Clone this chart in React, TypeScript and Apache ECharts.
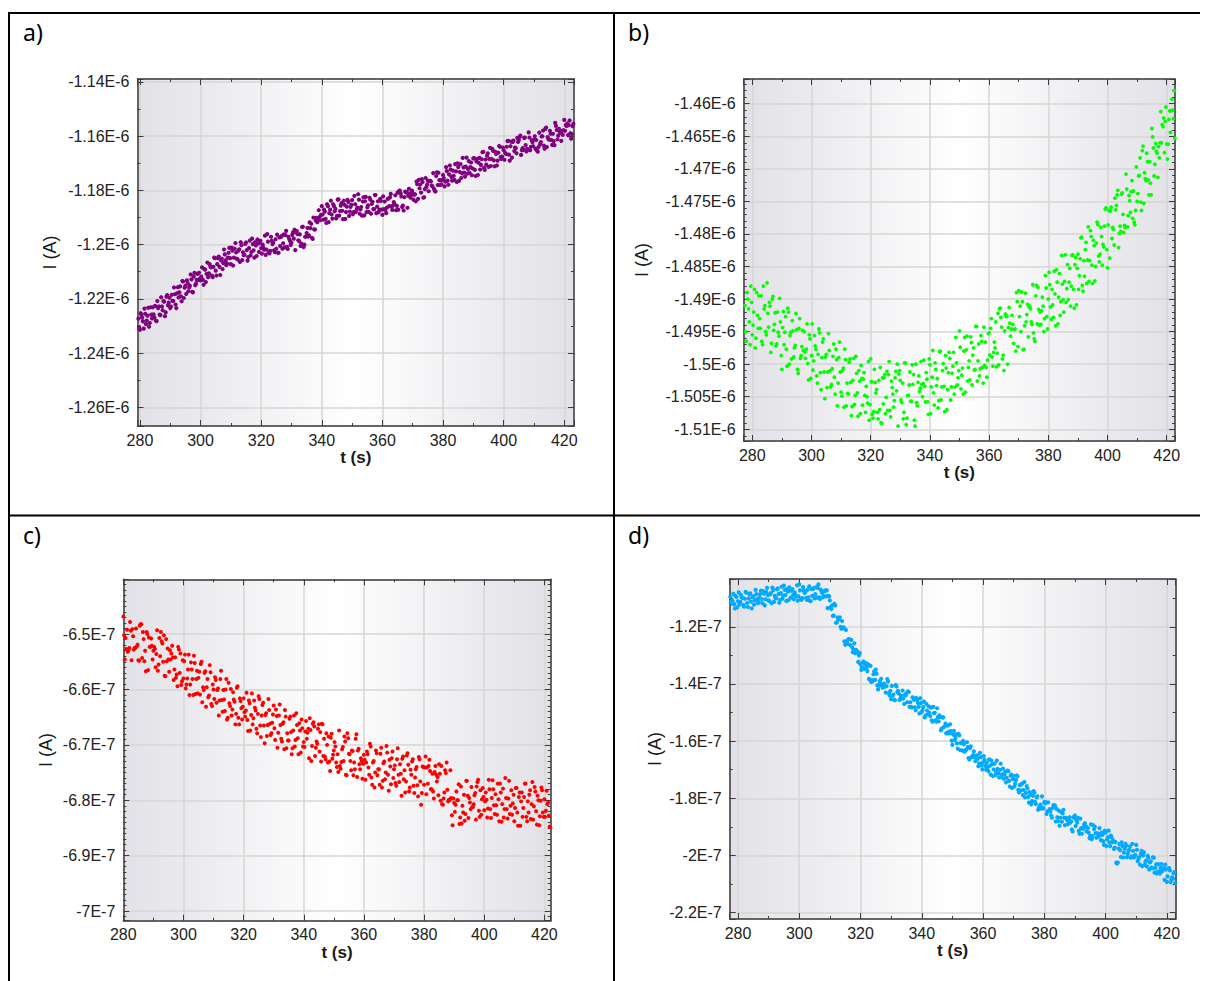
import React, { useEffect, useRef } from 'react';
import * as echarts from 'echarts';

// ---------------- data (current in nA, time in s) ----------------
// Each panel is sampled every DT seconds; a second, interleaved set of samples
// starts a quarter second later.
const DT = 0.5;

const T0_A = 279.5;
const currentA = [
  -1227.3, -1231.4, -1225.9, -1228.3, -1223.6, -1229.3, -1226.2, -1230.3, -1223.1, -1227.2,
  -1225.7, -1222.6, -1228.2, -1223.4, -1225.8, -1219.4, -1224.2, -1221.0, -1225.0, -1218.6,
  -1221.4, -1223.4, -1218.5, -1220.8, -1218.3, -1223.4, -1215.7, -1217.6, -1219.1, -1213.4,
  -1219.7, -1215.2, -1213.2, -1217.2, -1215.2, -1212.8, -1217.6, -1210.4, -1214.4, -1210.8,
  -1210.4, -1213.2, -1208.4, -1214.8, -1209.2, -1210.8, -1212.0, -1207.2, -1208.4, -1212.0,
  -1204.8, -1209.6, -1207.2, -1204.4, -1211.2, -1205.2, -1206.8, -1203.6, -1207.6, -1204.8,
  -1201.2, -1207.2, -1202.2, -1204.8, -1199.4, -1205.2, -1202.2, -1206.4, -1200.2, -1202.8,
  -1203.8, -1199.2, -1205.9, -1201.3, -1204.0, -1197.8, -1202.1, -1199.1, -1204.2, -1199.6,
  -1199.4, -1201.3, -1200.0, -1201.9, -1203.8, -1196.1, -1202.8, -1202.3, -1198.6, -1199.3,
  -1202.8, -1201.5, -1203.0, -1197.3, -1197.2, -1201.5, -1196.2, -1196.5, -1200.8, -1197.1,
  -1198.6, -1199.3, -1195.5, -1194.5, -1195.5, -1196.1, -1198.7, -1200.5, -1193.5, -1200.9,
  -1197.1, -1195.7, -1197.0, -1191.8, -1192.3, -1197.9, -1194.4, -1191.2, -1191.7, -1187.3,
  -1191.0, -1185.8, -1190.8, -1187.8, -1192.0, -1185.8, -1188.4, -1183.8, -1190.4, -1185.8,
  -1186.8, -1189.4, -1183.3, -1187.6, -1184.7, -1190.6, -1185.3, -1188.0, -1183.5, -1189.4,
  -1186.1, -1183.6, -1188.0, -1185.1, -1187.1, -1181.4, -1188.6, -1186.1, -1184.1, -1189.2,
  -1182.4, -1186.3, -1187.9, -1183.4, -1185.0, -1186.9, -1181.7, -1188.4, -1184.0, -1187.1,
  -1183.9, -1189.0, -1186.9, -1187.2, -1186.3, -1183.0, -1182.5, -1186.0, -1185.5, -1185.0,
  -1187.3, -1180.8, -1180.2, -1181.1, -1186.1, -1187.4, -1180.4, -1180.5, -1181.9, -1181.2,
  -1181.8, -1181.1, -1181.6, -1184.0, -1177.7, -1176.1, -1177.8, -1175.8, -1182.7, -1179.5,
  -1178.8, -1176.4, -1176.6, -1176.7, -1178.5, -1179.4, -1180.4, -1173.3, -1173.5, -1178.0,
  -1177.8, -1174.3, -1178.5, -1171.4, -1176.4, -1174.1, -1172.3, -1176.4, -1174.6, -1170.3,
  -1176.9, -1171.4, -1173.2, -1175.4, -1168.0, -1173.4, -1171.2, -1173.8, -1169.2, -1171.4,
  -1174.4, -1168.2, -1172.4, -1169.3, -1174.3, -1168.0, -1170.6, -1165.9, -1171.7, -1168.6,
  -1167.2, -1171.3, -1164.3, -1168.4, -1165.4, -1171.1, -1166.5, -1169.0, -1163.6, -1167.7,
  -1167.5, -1165.2, -1166.2, -1163.9, -1161.7, -1169.0, -1162.0, -1162.1, -1165.5, -1164.4,
  -1160.6, -1161.5, -1159.8, -1165.2, -1165.1, -1160.5, -1165.6, -1165.0, -1160.5, -1163.9,
  -1162.2, -1161.2, -1164.7, -1165.3, -1164.0, -1163.0, -1160.1, -1157.9, -1164.6, -1156.8,
  -1160.3, -1161.3, -1159.1, -1163.2, -1161.8, -1155.1, -1157.7, -1159.8, -1158.4, -1161.7,
  -1159.5, -1154.0, -1155.9, -1155.3, -1155.9, -1158.9, -1159.2, -1155.4,
];
const T0_A2 = 279.75;
const currentA2 = [
  -1230.4, -1225.3, -1226.9, -1231.0, -1225.5, -1228.0, -1223.3, -1228.9, -1225.8, -1223.1,
  -1226.8, -1228.0, -1220.8, -1222.8, -1226.0, -1222.8, -1220.8, -1226.4, -1219.2, -1222.4,
  -1219.6, -1222.8, -1220.7, -1215.8, -1222.1, -1218.0, -1219.5, -1215.4, -1220.9, -1213.6,
  -1215.9, -1218.2, -1214.2, -1215.8, -1211.0, -1217.4, -1211.8, -1215.0, -1213.0, -1213.0,
  -1212.6, -1211.8, -1213.0, -1209.0, -1213.8, -1206.6, -1210.6, -1208.2, -1211.4, -1208.2,
  -1205.0, -1211.4, -1205.0, -1208.2, -1205.8, -1209.0, -1201.8, -1205.8, -1207.0, -1203.0,
  -1205.0, -1201.1, -1207.7, -1201.5, -1202.9, -1205.5, -1201.7, -1199.1, -1205.7, -1203.9,
  -1199.7, -1202.0, -1204.6, -1198.5, -1202.7, -1199.8, -1204.8, -1200.3, -1198.1, -1202.7,
  -1198.6, -1203.3, -1201.2, -1196.7, -1201.8, -1198.9, -1203.2, -1197.1, -1199.8, -1202.1,
  -1198.0, -1196.3, -1203.0, -1200.5, -1196.8, -1199.5, -1201.0, -1194.9, -1201.6, -1197.9,
  -1200.1, -1196.4, -1197.8, -1202.0, -1195.0, -1198.4, -1196.2, -1199.6, -1193.4, -1200.0,
  -1197.0, -1193.8, -1196.6, -1193.9, -1197.5, -1190.0, -1194.4, -1190.1, -1190.9, -1189.8,
  -1189.0, -1188.9, -1187.1, -1190.5, -1185.1, -1191.7, -1187.1, -1188.9, -1185.1, -1187.7,
  -1190.3, -1183.4, -1189.3, -1185.6, -1187.5, -1183.8, -1190.5, -1186.0, -1184.3, -1187.8,
  -1185.3, -1188.8, -1182.0, -1187.9, -1186.3, -1183.4, -1187.0, -1189.3, -1182.5, -1184.0,
  -1188.0, -1185.5, -1182.7, -1188.6, -1184.2, -1186.9, -1181.7, -1186.0, -1188.0, -1183.1,
  -1187.1, -1182.2, -1184.1, -1188.4, -1183.1, -1185.8, -1181.3, -1187.2, -1184.3, -1181.8,
  -1185.7, -1187.1, -1180.1, -1182.2, -1185.6, -1182.5, -1180.7, -1186.4, -1179.4, -1182.7,
  -1180.1, -1183.4, -1181.4, -1176.7, -1183.1, -1179.2, -1180.8, -1176.9, -1182.5, -1175.4,
  -1177.8, -1180.3, -1176.5, -1178.2, -1173.6, -1180.1, -1174.7, -1178.0, -1176.2, -1176.3,
  -1176.1, -1175.4, -1176.8, -1172.9, -1177.9, -1170.8, -1175.0, -1172.7, -1176.1, -1173.0,
  -1170.0, -1176.5, -1170.3, -1173.7, -1171.5, -1174.9, -1167.9, -1172.1, -1173.5, -1169.7,
  -1171.9, -1168.1, -1174.7, -1168.4, -1169.8, -1172.3, -1168.5, -1165.8, -1172.4, -1170.5,
  -1166.3, -1168.4, -1171.0, -1164.7, -1168.9, -1165.8, -1170.8, -1166.1, -1163.9, -1168.4,
  -1164.2, -1168.7, -1166.5, -1161.8, -1166.8, -1163.7, -1167.9, -1161.6, -1164.2, -1166.3,
  -1162.1, -1160.3, -1166.9, -1164.4, -1160.6, -1163.3, -1164.7, -1158.6, -1165.2, -1161.5,
  -1163.7, -1160.0, -1161.4, -1165.7, -1158.7, -1162.2, -1160.0, -1163.5, -1157.3, -1164.0,
  -1161.0, -1158.0, -1161.4, -1159.1, -1163.3, -1156.2, -1161.2, -1157.3, -1158.7, -1158.0,
  -1157.8, -1158.0, -1156.2, -1159.6, -1154.2, -1160.9, -1156.3, -1158.1,
];

const T0_B = 277.5;
const currentB = [
  -1491.0, -1496.5, -1490.0, -1493.5, -1488.0, -1495.5, -1492.0, -1497.5, -1489.0, -1494.5,
  -1493.0, -1489.5, -1497.0, -1491.5, -1495.0, -1487.5, -1494.3, -1491.1, -1496.8, -1489.6,
  -1493.9, -1497.2, -1492.0, -1495.7, -1493.5, -1500.8, -1491.9, -1495.1, -1497.7, -1491.4,
  -1500.0, -1495.1, -1493.3, -1498.9, -1497.1, -1494.7, -1501.4, -1493.0, -1498.7, -1494.8,
  -1495.0, -1499.1, -1493.8, -1502.4, -1496.1, -1498.7, -1500.9, -1495.6, -1497.7, -1502.9,
  -1494.6, -1501.3, -1499.0, -1496.1, -1505.3, -1498.5, -1501.2, -1497.9, -1503.5, -1500.7,
  -1496.9, -1504.6, -1499.3, -1502.9, -1496.6, -1504.3, -1501.0, -1506.6, -1499.3, -1502.9,
  -1504.6, -1499.2, -1507.9, -1502.5, -1506.2, -1498.8, -1504.4, -1501.0, -1507.6, -1502.2,
  -1502.3, -1504.8, -1503.4, -1506.0, -1508.6, -1499.2, -1507.7, -1507.3, -1502.8, -1503.9,
  -1508.4, -1507.0, -1509.0, -1502.1, -1502.1, -1507.6, -1501.1, -1501.6, -1507.1, -1502.6,
  -1504.6, -1505.6, -1501.1, -1500.0, -1501.5, -1502.5, -1505.9, -1508.4, -1499.8, -1509.3,
  -1504.8, -1503.2, -1505.7, -1500.1, -1501.6, -1509.5, -1505.9, -1502.8, -1504.2, -1499.6,
  -1505.0, -1499.4, -1505.8, -1502.3, -1507.7, -1500.1, -1503.5, -1497.9, -1506.3, -1500.8,
  -1502.2, -1505.6, -1498.0, -1503.5, -1499.9, -1507.3, -1500.6, -1503.9, -1498.2, -1505.5,
  -1501.4, -1498.2, -1503.5, -1499.8, -1502.1, -1494.9, -1503.8, -1500.6, -1498.0, -1504.3,
  -1495.7, -1500.5, -1502.4, -1496.7, -1498.6, -1500.9, -1494.2, -1502.6, -1496.9, -1500.7,
  -1496.5, -1502.9, -1500.2, -1500.5, -1499.4, -1495.2, -1494.5, -1498.9, -1498.2, -1497.5,
  -1500.4, -1492.2, -1491.5, -1492.8, -1499.2, -1501.0, -1492.3, -1492.6, -1494.4, -1493.7,
  -1494.6, -1493.9, -1494.7, -1498.0, -1490.4, -1488.7, -1491.1, -1488.9, -1497.8, -1494.1,
  -1493.5, -1490.8, -1491.2, -1491.5, -1493.9, -1495.2, -1496.5, -1487.9, -1488.2, -1494.0,
  -1493.9, -1489.7, -1495.0, -1486.4, -1492.7, -1490.0, -1487.8, -1493.1, -1490.9, -1485.7,
  -1494.1, -1487.4, -1489.7, -1492.5, -1483.3, -1490.1, -1487.3, -1490.5, -1484.7, -1487.4,
  -1491.1, -1483.3, -1488.5, -1484.7, -1490.9, -1483.1, -1486.4, -1480.6, -1487.9, -1484.1,
  -1482.4, -1487.6, -1478.9, -1484.1, -1480.4, -1487.6, -1481.8, -1485.0, -1478.2, -1483.4,
  -1483.1, -1480.4, -1481.6, -1478.8, -1476.0, -1485.2, -1476.4, -1476.5, -1480.7, -1479.3,
  -1474.5, -1475.6, -1473.3, -1479.9, -1479.6, -1473.7, -1479.8, -1479.0, -1473.1, -1477.2,
  -1474.9, -1473.5, -1477.6, -1478.2, -1476.4, -1475.0, -1471.1, -1468.3, -1476.4, -1466.5,
  -1470.6, -1471.8, -1468.9, -1474.0, -1472.2, -1463.8, -1466.8, -1469.3, -1467.3, -1471.3,
  -1468.3, -1461.2, -1463.2, -1462.2, -1462.7, -1466.2, -1466.2, -1461.1, -1461.1, -1461.0,
  -1458.0,
];
const T0_B2 = 277.75;
const currentB2 = [
  -1495.0, -1489.0, -1491.5, -1497.0, -1490.5, -1494.0, -1488.5, -1496.0, -1492.5, -1489.5,
  -1494.5, -1496.5, -1488.0, -1491.0, -1495.5, -1492.2, -1490.5, -1498.2, -1490.0, -1494.8,
  -1492.1, -1496.9, -1495.1, -1489.9, -1498.7, -1494.4, -1497.0, -1492.7, -1500.3, -1492.0,
  -1495.6, -1499.2, -1494.9, -1497.5, -1492.2, -1500.8, -1494.5, -1499.1, -1497.3, -1497.9,
  -1498.1, -1497.7, -1499.9, -1495.5, -1502.2, -1493.8, -1499.5, -1497.2, -1501.8, -1498.5,
  -1495.2, -1503.9, -1496.6, -1501.2, -1498.9, -1503.6, -1495.3, -1501.0, -1503.1, -1498.8,
  -1502.0, -1497.7, -1506.4, -1499.0, -1501.2, -1504.9, -1500.6, -1497.7, -1506.4, -1504.5,
  -1499.7, -1502.8, -1506.5, -1499.1, -1504.8, -1501.4, -1508.0, -1502.6, -1500.2, -1506.3,
  -1501.3, -1507.4, -1505.0, -1499.6, -1506.2, -1502.7, -1508.3, -1500.8, -1504.4, -1507.4,
  -1502.5, -1500.5, -1509.1, -1506.1, -1501.6, -1505.1, -1507.1, -1499.6, -1508.1, -1503.6,
  -1506.6, -1502.1, -1504.1, -1509.5, -1501.0, -1505.5, -1502.9, -1507.4, -1499.8, -1508.3,
  -1504.8, -1501.2, -1505.7, -1503.1, -1508.6, -1500.0, -1506.4, -1501.8, -1503.7, -1503.1,
  -1503.0, -1503.4, -1501.3, -1505.8, -1499.2, -1507.6, -1502.0, -1504.4, -1499.8, -1503.3,
  -1506.7, -1498.1, -1505.5, -1501.0, -1503.4, -1498.7, -1507.0, -1501.3, -1499.1, -1503.5,
  -1500.3, -1504.6, -1495.9, -1503.2, -1501.0, -1497.4, -1501.7, -1504.6, -1495.9, -1497.8,
  -1502.6, -1499.5, -1495.8, -1503.2, -1497.5, -1500.8, -1494.2, -1499.5, -1501.8, -1495.6,
  -1500.5, -1494.3, -1496.6, -1502.0, -1495.3, -1498.6, -1493.0, -1500.3, -1496.6, -1493.5,
  -1498.3, -1500.1, -1491.4, -1494.3, -1498.6, -1494.9, -1492.7, -1500.0, -1491.3, -1495.7,
  -1492.5, -1496.8, -1494.6, -1489.0, -1497.3, -1492.7, -1495.0, -1490.4, -1497.7, -1489.1,
  -1492.4, -1495.8, -1491.1, -1493.5, -1487.8, -1496.1, -1489.5, -1493.8, -1491.6, -1492.0,
  -1491.8, -1491.1, -1493.0, -1488.3, -1494.6, -1485.9, -1491.2, -1488.5, -1492.8, -1489.2,
  -1485.5, -1493.8, -1486.1, -1490.4, -1487.7, -1492.0, -1483.2, -1488.4, -1490.1, -1485.3,
  -1488.0, -1483.2, -1491.4, -1483.6, -1485.3, -1488.5, -1483.8, -1480.5, -1488.8, -1486.5,
  -1481.3, -1484.0, -1487.3, -1479.5, -1484.8, -1481.0, -1487.2, -1481.4, -1478.6, -1484.3,
  -1479.0, -1484.8, -1482.0, -1476.2, -1482.4, -1478.6, -1483.7, -1475.9, -1479.0, -1481.7,
  -1476.3, -1474.0, -1482.1, -1478.8, -1473.9, -1477.0, -1478.7, -1470.8, -1478.9, -1474.1,
  -1476.7, -1471.8, -1473.4, -1478.6, -1469.7, -1473.8, -1471.0, -1475.1, -1467.2, -1475.3,
  -1471.5, -1467.6, -1471.7, -1468.9, -1474.0, -1465.1, -1471.1, -1466.1, -1467.6, -1466.6,
  -1466.0, -1466.0, -1463.5, -1467.5, -1460.5, -1468.5, -1462.4, -1464.4, -1459.3, -1462.3,
  -1465.3,
];

const T0_C = 280;
const currentC = [
  -646.8, -654.6, -652.7, -653.2, -652.5, -649.4, -649.1, -652.8, -652.5, -652.2,
  -654.7, -648.5, -648.2, -649.6, -654.9, -656.7, -650.0, -650.6, -652.3, -652.1,
  -653.0, -652.7, -653.6, -656.6, -650.7, -649.6, -651.7, -650.2, -657.6, -654.9,
  -654.6, -652.9, -653.5, -654.2, -656.4, -657.9, -659.4, -652.8, -653.5, -658.5,
  -658.0, -653.7, -659.1, -656.4, -661.0, -655.1, -658.1, -653.9, -660.8, -656.6,
  -657.9, -660.9, -655.0, -659.6, -657.0, -663.1, -658.1, -661.1, -656.9, -663.0,
  -660.0, -657.8, -662.4, -659.8, -662.0, -656.6, -664.0, -661.8, -660.0, -665.4,
  -658.8, -663.0, -664.7, -660.5, -662.2, -664.4, -659.4, -666.3, -662.1, -665.4,
  -661.6, -664.9, -660.6, -667.5, -662.5, -664.6, -666.3, -662.0, -663.8, -667.9,
  -661.2, -666.5, -664.7, -662.4, -669.7, -664.3, -666.4, -663.7, -668.2, -666.0,
  -662.9, -669.1, -664.8, -667.8, -662.7, -668.9, -666.2, -670.8, -664.9, -667.9,
  -669.2, -664.9, -671.7, -667.4, -670.3, -664.3, -668.8, -666.1, -671.4, -667.0,
  -669.5, -667.6, -668.9, -667.1, -665.2, -672.9, -666.2, -666.7, -670.5, -669.8,
  -666.3, -667.7, -666.2, -672.0, -672.1, -667.9, -673.2, -673.0, -668.7, -672.5,
  -671.0, -670.3, -674.0, -674.9, -673.8, -673.1, -670.4, -668.5, -675.4, -667.9,
  -671.6, -672.9, -671.0, -675.5, -674.4, -668.1, -671.0, -673.5, -672.4, -676.1,
  -671.8, -676.3, -671.2, -674.1, -669.8, -675.9, -673.2, -677.7, -671.0, -675.5,
  -674.4, -671.6, -677.7, -673.3, -676.2, -670.2, -675.4, -672.7, -677.1, -671.2,
  -674.4, -676.9, -672.6, -675.4, -673.5, -679.2, -672.1, -674.6, -676.6, -671.5,
  -678.4, -674.5, -673.0, -677.4, -675.9, -674.0, -679.3, -672.6, -680.8, -673.9,
  -677.2, -672.1, -674.1, -673.8, -674.7, -678.0, -678.4, -674.9, -675.4, -675.8,
  -673.5, -680.1, -680.7, -679.7, -674.6, -673.2, -680.2, -680.0, -679.6, -684.5,
  -680.5, -680.8, -680.0, -677.1, -683.1, -684.2, -682.2, -683.7, -676.5, -679.2,
  -679.6, -681.6, -681.2, -680.7, -678.7, -677.5, -676.3, -683.0, -682.6, -677.8,
  -681.8, -678.6, -683.1, -676.3, -681.6, -679.6, -678.0, -682.5, -680.9, -677.0,
  -683.8, -678.6, -680.7, -683.1, -676.0, -681.6, -679.7, -682.5, -678.2, -680.6,
  -683.8, -677.8, -682.2, -679.4, -684.6, -678.6, -681.4, -677.0, -683.0, -680.2,
  -679.0, -683.4, -676.7, -681.1, -678.4, -684.4, -680.0, -682.9, -677.7, -682.2,
  -679.8, -681.9, -680.7, -682.8, -684.9,
];
const T0_C2 = 280.25;
const currentC2 = [
  -650.2, -650.7, -649.2, -652.9, -647.8, -654.7, -650.4, -652.5, -649.0, -651.9,
  -654.8, -648.2, -654.3, -650.9, -653.0, -649.6, -656.5, -652.3, -650.8, -654.6,
  -652.3, -656.0, -649.3, -655.5, -654.0, -651.3, -655.0, -657.5, -650.9, -652.6,
  -656.8, -654.6, -652.1, -658.3, -654.2, -657.3, -652.3, -657.0, -659.2, -654.7,
  -654.9, -659.8, -658.0, -653.7, -659.1, -656.4, -661.0, -655.2, -658.1, -660.7,
  -656.8, -655.4, -662.3, -660.1, -656.7, -659.6, -661.4, -655.6, -662.6, -659.1,
  -661.7, -658.3, -660.1, -664.7, -658.1, -661.9, -660.1, -663.9, -658.1, -665.1,
  -662.5, -659.9, -663.6, -661.8, -666.3, -659.7, -665.1, -661.6, -663.4, -663.1,
  -664.1, -663.8, -665.5, -662.0, -667.4, -660.7, -665.2, -663.3, -667.1, -664.4,
  -661.7, -668.6, -662.8, -666.5, -664.6, -668.4, -661.7, -666.2, -667.9, -664.5,
  -667.0, -663.6, -670.5, -664.7, -666.4, -669.4, -665.9, -663.7, -670.6, -669.2,
  -665.3, -667.7, -670.6, -664.7, -669.1, -666.4, -671.7, -667.4, -665.4, -670.3,
  -670.4, -665.7, -667.8, -672.4, -667.3, -670.2, -665.9, -672.0, -669.4, -667.1,
  -671.2, -673.0, -666.3, -668.9, -672.6, -670.0, -668.5, -674.7, -668.0, -671.8,
  -669.5, -673.2, -671.7, -667.4, -674.3, -670.8, -672.9, -669.4, -675.5, -668.8,
  -671.7, -674.6, -671.1, -673.2, -668.9, -675.8, -670.7, -674.4, -672.9, -673.4,
  -672.7, -673.2, -671.7, -675.4, -670.3, -677.2, -672.9, -675.0, -671.5, -674.4,
  -677.2, -670.5, -676.5, -673.0, -675.0, -671.4, -678.3, -673.9, -672.4, -676.0,
  -673.7, -677.4, -670.6, -676.7, -675.2, -672.5, -676.2, -678.6, -671.9, -673.6,
  -677.7, -675.4, -672.6, -678.7, -674.4, -677.3, -672.2, -676.6, -678.7, -674.0,
  -674.1, -678.9, -677.0, -672.7, -678.0, -675.2, -679.7, -673.8, -676.6, -679.1,
  -675.2, -673.8, -680.8, -678.6, -675.1, -678.1, -679.9, -674.6, -682.7, -679.7,
  -682.1, -678.4, -680.0, -684.3, -677.5, -681.0, -679.0, -682.5, -676.5, -683.2,
  -680.4, -677.6, -681.2, -679.1, -683.5, -676.7, -681.9, -678.2, -679.8, -679.4,
  -680.2, -679.9, -681.5, -678.0, -683.2, -676.4, -680.9, -678.9, -682.6, -679.8,
  -677.0, -683.9, -677.9, -681.6, -679.6, -683.3, -676.5, -681.0, -682.6, -679.0,
  -681.4, -677.8, -684.6, -678.6, -680.2, -683.0, -679.4, -677.0, -683.8, -682.2,
  -678.2, -680.7, -683.5, -677.6, -682.0, -679.2, -684.5, -680.1, -678.2, -683.0,
  -683.0, -678.3, -680.4, -684.8, -679.7,
];

const T0_D = 277.5;
const currentD = [
  -109.5, -111.9, -108.5, -113.6, -109.6, -111.1, -112.2, -108.9, -110.0, -113.0,
  -107.8, -111.7, -110.1, -108.3, -113.6, -109.4, -110.8, -108.6, -111.8, -109.9,
  -107.4, -111.8, -108.4, -110.4, -106.4, -110.8, -108.6, -111.8, -107.2, -109.2,
  -110.0, -106.6, -111.6, -108.2, -110.2, -105.6, -108.9, -106.8, -110.7, -107.4,
  -107.4, -108.9, -108.0, -109.4, -110.9, -105.2, -110.3, -110.0, -107.3, -107.9,
  -110.6, -109.7, -111.0, -106.8, -106.8, -110.1, -106.2, -106.4, -109.7, -107.0,
  -108.2, -109.4, -107.3, -107.3, -109.2, -110.8, -113.8, -116.2, -112.0, -118.6,
  -116.8, -117.2, -120.0, -118.0, -120.2, -126.3, -125.2, -124.4, -126.3, -124.6,
  -128.9, -125.8, -128.1, -128.6, -130.0, -133.2, -134.2, -132.2, -133.2, -134.2,
  -133.1, -138.5, -139.3, -139.0, -135.6, -135.0, -140.5, -140.6, -139.8, -140.5,
  -140.3, -141.0, -140.8, -139.1, -144.0, -145.3, -144.1, -145.6, -140.4, -142.8,
  -143.4, -145.1, -145.1, -145.1, -143.8, -143.2, -142.6, -148.0, -148.0, -144.7,
  -145.6, -149.2, -145.6, -148.0, -145.0, -149.8, -148.1, -151.7, -147.0, -150.6,
  -150.1, -148.3, -153.2, -150.2, -152.7, -148.5, -153.1, -151.6, -155.6, -151.7,
  -154.8, -157.2, -154.6, -157.3, -156.5, -161.3, -156.4, -158.8, -160.8, -157.4,
  -163.1, -160.6, -159.9, -163.7, -163.1, -162.1, -166.4, -161.8, -165.5, -163.6,
  -167.0, -165.0, -168.8, -164.1, -168.5, -167.4, -166.5, -170.0, -169.1, -166.4,
  -171.7, -168.1, -169.9, -171.9, -166.8, -171.3, -170.1, -172.6, -169.6, -171.7,
  -174.4, -170.3, -173.9, -172.1, -176.4, -172.2, -174.8, -172.0, -177.0, -175.4,
  -175.1, -178.9, -174.3, -178.1, -176.5, -181.5, -178.6, -181.0, -177.5, -181.2,
  -179.7, -184.0, -182.9, -183.6, -183.3, -181.3, -181.4, -184.5, -184.5, -184.6,
  -186.8, -182.4, -182.5, -183.7, -188.0, -189.6, -184.8, -185.3, -186.8, -186.8,
  -187.7, -187.6, -188.5, -190.9, -186.6, -186.0, -187.7, -186.8, -192.4, -190.5,
  -190.4, -189.2, -189.7, -190.2, -192.0, -193.1, -194.3, -189.4, -190.0, -193.8,
  -193.5, -190.4, -194.6, -192.7, -196.3, -192.0, -194.4, -191.3, -196.7, -193.7,
  -194.8, -197.2, -202.5, -202.5, -196.0, -200.5, -196.7, -199.0, -195.9, -200.6,
  -198.4, -196.8, -200.3, -198.4, -200.2, -196.3, -202.0, -200.6, -199.4, -203.7,
  -198.9, -202.2, -203.8, -200.8, -202.4, -204.2, -200.6, -206.0, -203.1, -205.8,
  -205.5, -204.3, -205.5, -204.4, -203.2, -209.2, -204.5, -205.2, -208.3, -208.1,
  -205.8,
];
const T0_D2 = 277.75;
const currentD2 = [
  -111.3, -110.9, -112.1, -109.3, -113.2, -108.0, -111.3, -109.7, -112.4, -110.2,
  -108.1, -113.1, -108.6, -111.2, -109.7, -112.3, -107.1, -110.3, -111.4, -108.6,
  -110.3, -107.5, -112.5, -107.9, -109.0, -111.0, -108.2, -106.3, -111.3, -110.0,
  -106.9, -108.6, -110.6, -106.0, -109.2, -107.1, -111.0, -107.7, -106.2, -109.8,
  -106.8, -110.4, -108.8, -105.5, -109.4, -107.3, -110.6, -106.1, -108.2, -110.0,
  -107.0, -105.9, -111.0, -109.2, -106.5, -108.6, -109.8, -105.2, -110.3, -107.6,
  -109.7, -107.6, -109.4, -113.5, -109.4, -113.1, -112.5, -116.1, -112.5, -118.5,
  -117.5, -116.7, -120.7, -120.5, -125.1, -121.1, -126.0, -124.3, -126.5, -127.2,
  -128.1, -129.2, -128.8, -132.3, -129.2, -135.1, -132.5, -134.7, -132.7, -135.5,
  -138.2, -133.7, -138.7, -136.6, -138.6, -136.4, -141.9, -139.0, -138.2, -141.3,
  -139.9, -143.0, -138.3, -143.2, -142.4, -140.7, -143.7, -145.7, -140.9, -142.4,
  -145.6, -144.1, -142.3, -147.0, -144.0, -146.4, -142.8, -146.4, -148.2, -144.9,
  -148.2, -144.9, -146.7, -150.3, -146.7, -149.1, -146.2, -151.0, -149.3, -147.8,
  -151.2, -152.7, -148.0, -150.1, -153.2, -151.6, -151.0, -156.2, -151.7, -155.1,
  -153.9, -157.3, -156.7, -154.1, -159.8, -157.7, -159.7, -157.6, -162.6, -158.0,
  -160.7, -163.3, -161.1, -163.1, -160.4, -165.9, -162.5, -165.6, -164.9, -165.6,
  -166.0, -166.2, -167.8, -165.6, -169.9, -165.2, -168.7, -167.5, -170.5, -168.6,
  -166.8, -172.2, -167.9, -170.9, -169.7, -172.7, -167.9, -171.6, -173.1, -170.7,
  -172.8, -170.5, -175.9, -171.7, -173.3, -175.8, -173.6, -172.3, -177.9, -177.2,
  -174.8, -177.1, -179.7, -175.7, -179.5, -177.8, -182.1, -179.1, -178.0, -182.0,
  -179.3, -183.3, -182.2, -179.3, -183.5, -181.8, -185.5, -181.4, -183.8, -186.0,
  -183.4, -182.6, -188.1, -186.6, -184.3, -186.8, -188.2, -184.0, -189.4, -187.0,
  -189.0, -186.6, -188.1, -191.6, -186.8, -189.7, -188.5, -191.4, -187.1, -192.4,
  -190.6, -188.7, -191.6, -190.4, -193.9, -189.1, -193.2, -190.8, -192.2, -192.2,
  -192.4, -193.0, -192.0, -195.0, -191.3, -196.7, -193.6, -195.4, -193.0, -195.3,
  -197.7, -195.3, -202.8, -197.6, -198.1, -195.4, -200.7, -197.6, -196.6, -199.5,
  -197.9, -200.8, -195.9, -200.7, -199.8, -198.0, -201.0, -203.2, -198.4, -200.0,
  -203.3, -201.8, -200.1, -204.9, -202.0, -204.4, -200.8, -204.4, -206.3, -203.0,
  -206.3, -203.0, -204.8, -208.5, -204.9, -207.3, -204.4, -209.3, -207.6, -206.2,
  -209.6,
];

const panelLabels = ['a)', 'b)', 'c)', 'd)'];
const xAxisName = 't (s)';
const yAxisName = 'I (A)';
const xTickStep = 20;
const yTickSteps = [20, 5, 10, 20];
const yMinorSplits = [2, 5, 10, 2];
const xRanges: [number, number][] = [[279.2, 423.2], [277.1, 422.8], [280, 422.1], [277.3, 422.9]];
const yRanges: [number, number][] = [[-1266.9, -1138.9], [-1511.8, -1456.2], [-701.75, -640.1], [-222.2, -103.3]];
const seriesData = [
  [{ t0: T0_A, values: currentA }, { t0: T0_A2, values: currentA2 }],
  [{ t0: T0_B, values: currentB }, { t0: T0_B2, values: currentB2 }],
  [{ t0: T0_C, values: currentC }, { t0: T0_C2, values: currentC2 }],
  [{ t0: T0_D, values: currentD }, { t0: T0_D2, values: currentD2 }],
];

// ---------------- layout / style ----------------
const FONT = '"Liberation Sans", Arial, sans-serif';
const colors = ['#800080', '#00ff00', '#ff0000', '#00aaff'];
const symbolSizes = [4.2, 3.8, 4.0, 4.2];
const grids = [
  { left: 129.5, top: 71, width: 436.5, height: 347 },
  { left: 735.7, top: 71, width: 431.3, height: 362 },
  { left: 115.3, top: 571.3, width: 427.4, height: 341.4 },
  { left: 721.7, top: 571, width: 446, height: 340 },
];
const yNameGaps = [79, 93, 68, 66];
const labelPos = [[15, 12], [620, 12], [15, 515], [620, 515]];

const AXIS_COLOR = '#3c3c3c';
const GRID_COLOR = '#d6d6d6';

function onStep(v: number, step: number) {
  const r = v / step;
  return Math.abs(r - Math.round(r)) < 1e-6;
}

// value in nA -> "mantissaEexponent" in amperes
function fmtCurrent(v: number): string {
  if (Math.abs(v) < 1e-12) return '0';
  const e = Math.floor(Math.log10(Math.abs(v)) + 1e-9);
  const m = parseFloat((v / Math.pow(10, e)).toFixed(4));
  return `${m}E${e - 9}`;
}

function bgGradient() {
  return new echarts.graphic.LinearGradient(0, 0, 1, 0, [
    { offset: 0, color: '#e1e1e7' },
    { offset: 0.5, color: '#ffffff' },
    { offset: 1, color: '#e1e1e7' },
  ]);
}

function buildOption() {
  const xAxis: any[] = [];
  const yAxis: any[] = [];
  const series: any[] = [];
  const grid: any[] = [];

  grids.forEach((g, i) => {
    grid.push({ ...g, show: true, backgroundColor: bgGradient(), borderWidth: 0, containLabel: false });
    const tick = { show: true, inside: true, length: 6, lineStyle: { color: AXIS_COLOR, width: 1 } };
    const line = { show: true, onZero: false, lineStyle: { color: AXIS_COLOR, width: 1.5 } };
    const yStep = yTickSteps[i];
    [false, true].forEach((mirror) => {
      xAxis.push({
        type: 'value',
        gridIndex: i,
        position: mirror ? 'top' : 'bottom',
        min: xRanges[i][0],
        max: xRanges[i][1],
        minInterval: xTickStep,
        maxInterval: xTickStep,
        axisLine: line,
        axisTick: tick,
        minorTick: { show: true, splitNumber: 2, length: 3, lineStyle: { color: AXIS_COLOR, width: 1 } },
        splitLine: { show: !mirror, lineStyle: { color: GRID_COLOR, width: 1.5 } },
        axisLabel: mirror
          ? { show: false }
          : {
              show: true,
              margin: 6,
              fontSize: 16,
              color: '#222',
              fontFamily: FONT,
              formatter: (v: number) => (onStep(v, xTickStep) ? String(Math.round(v)) : ''),
            },
        name: mirror ? '' : xAxisName,
        nameLocation: 'middle',
        nameGap: 22,
        nameTextStyle: { fontSize: 17, fontWeight: 'bold', color: '#1a1a1a', fontFamily: FONT },
      });
      yAxis.push({
        type: 'value',
        gridIndex: i,
        position: mirror ? 'right' : 'left',
        min: yRanges[i][0],
        max: yRanges[i][1],
        minInterval: yStep,
        maxInterval: yStep,
        axisLine: line,
        axisTick: tick,
        minorTick: { show: true, splitNumber: yMinorSplits[i], length: 3, lineStyle: { color: AXIS_COLOR, width: 1 } },
        splitLine: { show: !mirror, lineStyle: { color: GRID_COLOR, width: 1.5 } },
        axisLabel: mirror
          ? { show: false }
          : {
              show: true,
              margin: 8,
              fontSize: 16,
              color: '#222',
              fontFamily: FONT,
              formatter: (v: number) => (onStep(v, yStep) ? fmtCurrent(v) : ''),
            },
        name: mirror ? '' : yAxisName,
        nameLocation: 'middle',
        nameGap: yNameGaps[i],
        nameTextStyle: { fontSize: 18, color: '#1a1a1a', fontFamily: FONT },
      });
    });
    const pts: number[][] = [];
    seriesData[i].forEach((s) => {
      s.values.forEach((v, k) => pts.push([s.t0 + k * DT, v]));
    });
    series.push({
      type: 'scatter',
      xAxisIndex: i * 2,
      yAxisIndex: i * 2,
      data: pts,
      symbol: 'circle',
      symbolSize: symbolSizes[i],
      itemStyle: { color: colors[i], opacity: 1 },
      silent: true,
      clip: true,
      z: 3,
    });
  });

  const frame = { stroke: '#000', lineWidth: 2 };
  const graphic: any[] = [
    { type: 'line', shape: { x1: 0, y1: 5, x2: 1200, y2: 5 }, style: frame, silent: true },
    { type: 'line', shape: { x1: 1, y1: 4, x2: 1, y2: 973 }, style: frame, silent: true },
    { type: 'line', shape: { x1: 606, y1: 4, x2: 606, y2: 973 }, style: frame, silent: true },
    { type: 'line', shape: { x1: 0, y1: 507.5, x2: 1200, y2: 507.5 }, style: frame, silent: true },
  ];
  panelLabels.forEach((lab, i) => {
    graphic.push({
      type: 'text',
      x: labelPos[i][0],
      y: labelPos[i][1],
      silent: true,
      style: { text: lab, fontSize: 23, fontFamily: '"Noto Sans", "Open Sans", sans-serif', fill: '#000', textVerticalAlign: 'top' },
    });
  });

  return {
    animation: false,
    backgroundColor: '#ffffff',
    textStyle: { fontFamily: FONT },
    grid,
    xAxis,
    yAxis,
    series,
    graphic,
  };
}

export default function App() {
  const ref = useRef<HTMLDivElement>(null);
  useEffect(() => {
    if (!ref.current) return;
    const chart = echarts.init(ref.current, undefined, { renderer: 'svg' });
    chart.setOption(buildOption() as any);
    return () => chart.dispose();
  }, []);
  return <div ref={ref} style={{ width: 1200, height: 973 }} />;
}
